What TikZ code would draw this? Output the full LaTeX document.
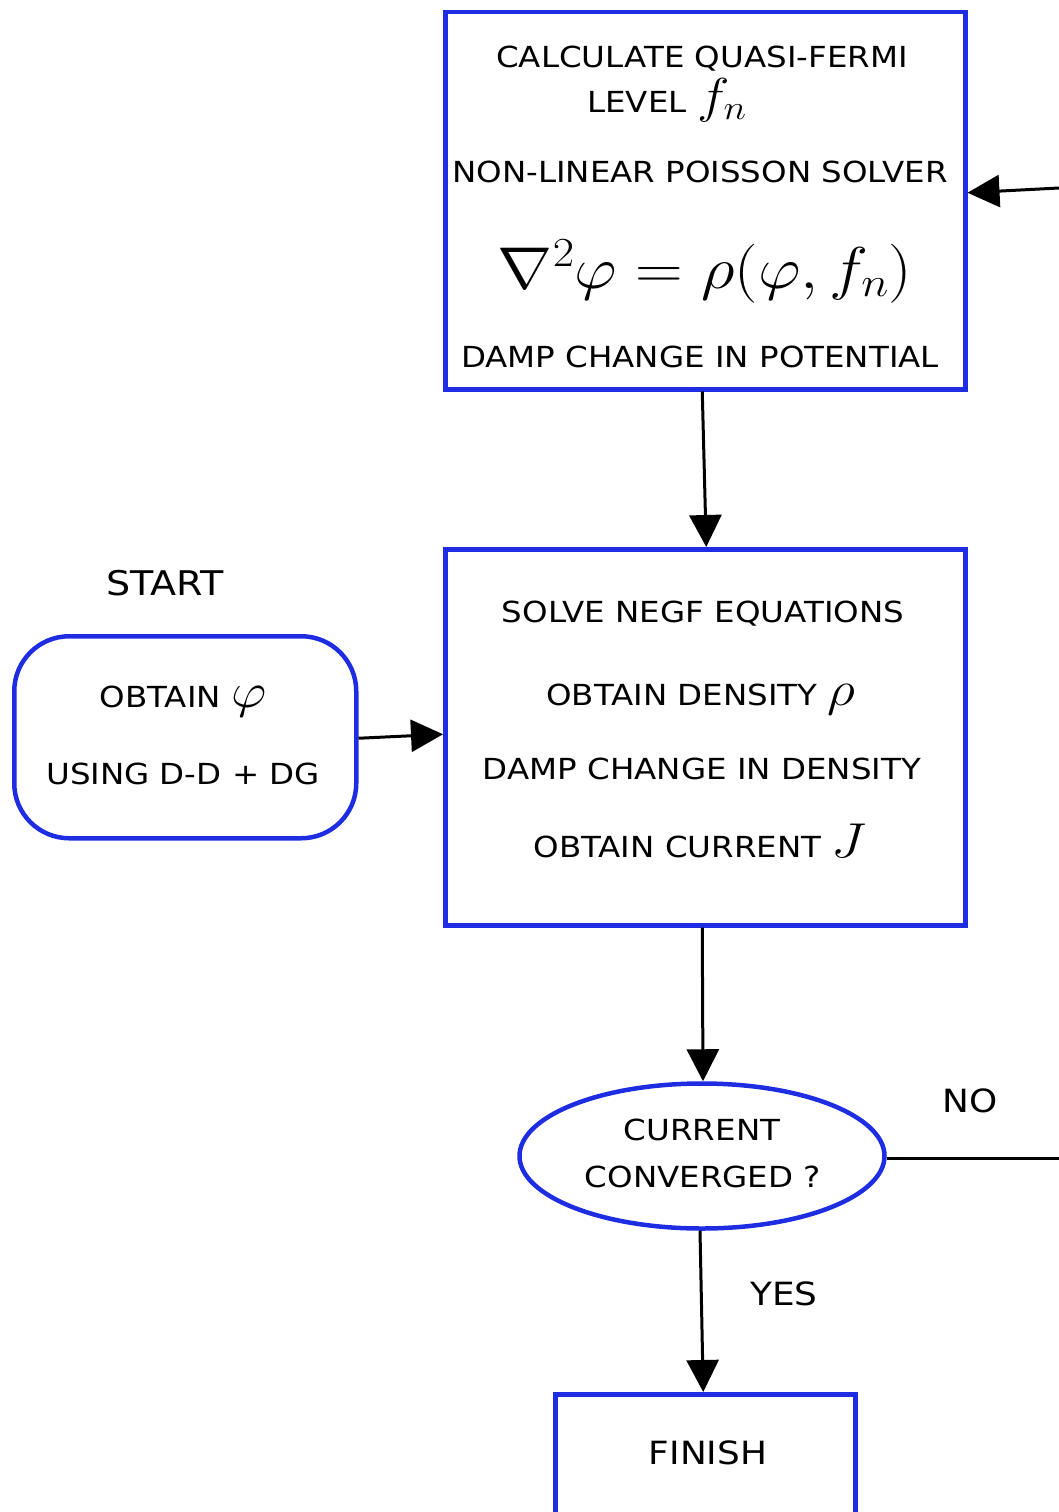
\RequirePackage{fix-cm}
\documentclass[tikz,border=0pt]{standalone}
\usepackage{graphicx}
\usepackage{fontspec}
\setmainfont[FakeStretch=1.12]{DejaVu Sans}
\usetikzlibrary{arrows.meta,shapes.geometric}
\definecolor{bblue}{RGB}{30,45,225}
\newcommand{\mymath}[1]{\scalebox{1.12}[1]{\fontsize{49}{49}\selectfont$#1$}}
\tikzset{
  x=1pt,y=-1pt,
  every node/.style={font=\fontsize{29}{35}\selectfont, inner sep=0pt},
  bluebox/.style={draw=bblue, line width=4.5pt, rectangle},
  startbox/.style={draw=bblue, line width=4.5pt, rectangle, rounded corners=55pt},
  decide/.style={draw=bblue, line width=4.5pt, ellipse},
  conn/.style={line width=3pt, -{Triangle[length=32pt,width=32pt]}},
  plainconn/.style={line width=3pt},
  lbl/.style={font=\fontsize{32}{38}\selectfont},
}
\begin{document}
\begin{tikzpicture}
\useasboundingbox (0,0) rectangle (1059,1512);
\clip (0,0) rectangle (1059,1512);
% top box
\node[bluebox, minimum width=520, minimum height=377, anchor=north west] (top) at (443,10) {};
\node (t1) at (702,59) {CALCULATE QUASI-FERMI};
\node[anchor=base] (t2) at (667,112) {LEVEL \mymath{f_n}};
\node (t3) at (700,172) {NON-LINEAR POISSON SOLVER};
\node[anchor=base] (t4) at (705,288) {\scalebox{1.12}[1]{\fontsize{59}{64}\selectfont$\nabla^2\varphi=\rho(\varphi,f_n)$}};
\node (t5) at (700,357) {DAMP CHANGE IN POTENTIAL};
% middle box
\node[bluebox, minimum width=520, minimum height=376, anchor=north west] (mid) at (443,547) {};
\node (m1) at (703,614) {SOLVE NEGF EQUATIONS};
\node[anchor=base] (m2) at (701,705) {OBTAIN DENSITY \mymath{\rho}};
\node (m3) at (702,769) {DAMP CHANGE IN DENSITY};
\node[anchor=base] (m4) at (700,857) {OBTAIN CURRENT \mymath{J}};
% start
\node[font=\fontsize{34}{40}\selectfont] (startlbl) at (165,583) {START};
\node[startbox, minimum width=342, minimum height=202, anchor=north west] (start) at (12,634) {};
\node[anchor=base] (s1) at (183,707) {OBTAIN \mymath{\varphi}};
\node (s2) at (183,774) {USING D-D + DG};
% decision
\node[decide, minimum width=365, minimum height=145] (conv) at (702,1156) {};
\node (c1) at (702,1130) {CURRENT};
\node (c2) at (703,1177) {CONVERGED ?};
\node[lbl] (nolbl) at (970,1101) {NO};
\node[lbl] (yeslbl) at (784,1294) {YES};
% finish
\node[bluebox, minimum width=300, minimum height=160, anchor=north west] (finish) at (553,1392) {};
\node[lbl] (f1) at (708,1453) {FINISH};
% connectors
\coordinate (rin) at (1059,188);
\coordinate (rout) at (1059,1158);
\draw[conn] (rin) -- ([yshift=8pt]top.east);
\draw[conn] ([xshift=-3pt]top.south) -- ([xshift=1pt]mid.north);
\draw[conn] ([yshift=-1pt]start.east) -- ([yshift=3pt]mid.west);
\draw[conn] ([xshift=-3pt]mid.south) -- ([xshift=1pt]conv.north);
\draw[plainconn] ([yshift=-2pt]conv.east) -- (rout);
\draw[conn] ([xshift=-2pt]conv.south) -- ([xshift=-2pt]finish.north);
\end{tikzpicture}
\end{document}
